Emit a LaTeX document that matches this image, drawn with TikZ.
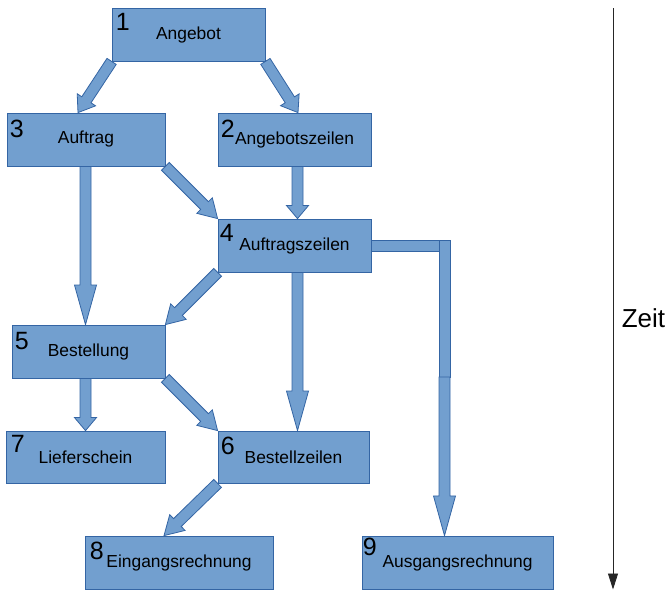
\documentclass[tikz,border=0pt]{standalone}
\usepackage{fontspec}
\setmainfont{Liberation Sans}
\usetikzlibrary{calc,arrows.meta}
\definecolor{boxfill}{HTML}{729FCF}
\definecolor{boxline}{HTML}{3465A4}
\tikzset{
	docbox/.style={rectangle, draw=boxline, fill=boxfill, line width=0.8pt, minimum height=53pt, inner sep=0pt, font=\fontsize{17.4}{20}\selectfont},
	docnum/.style={anchor=north west, inner sep=0pt, font=\fontsize{25}{28}\selectfont},
	arrowbody/.style={draw=boxline, fill=boxfill, line width=0.8pt, line join=miter},
}
% block arrow: shaft 11pt, head 22pt wide, head = quarter of the length
\newcommand{\blockarrow}[2]{%
	\coordinate (ba-s) at (#1);
	\coordinate (ba-e) at (#2);
	\coordinate (ba-h) at ($(ba-e)!0.25!(ba-s)$);
	\filldraw[arrowbody] ($(ba-s)!5.5pt!90:(ba-e)$) -- ($(ba-h)!5.5pt!90:(ba-e)$) -- ($(ba-h)!11pt!90:(ba-e)$) -- (ba-e)
		-- ($(ba-h)!11pt!-90:(ba-e)$) -- ($(ba-h)!5.5pt!-90:(ba-e)$) -- ($(ba-s)!5.5pt!-90:(ba-e)$) -- cycle;
}
\begin{document}
\begin{tikzpicture}[x=1pt, y=-1pt]
	\useasboundingbox (0,0) rectangle (668,590);
	% documents
	\node[docbox, minimum width=153pt](angebot) at (188.5,34.5){Angebot};
	\node[docbox, minimum width=158pt](auftrag) at (86,139.5){Auftrag};
	\node[docbox, minimum width=153pt](angebotszeilen) at (294.5,139.5){Angebotszeilen};
	\node[docbox, minimum width=153pt](auftragszeilen) at (294.5,245.5){Auftragszeilen};
	\node[docbox, minimum width=153pt](bestellung) at (88.5,351.5){Bestellung};
	\node[docbox, minimum width=159pt, minimum height=52pt](lieferschein) at (85.5,457){Lieferschein};
	\node[docbox, minimum width=151pt, minimum height=52pt](bestellzeilen) at (293.5,457){Bestellzeilen};
	\node[docbox, minimum width=188pt](eingang) at (179,562.5){Eingangsrechnung};
	\node[docbox, minimum width=191pt](ausgang) at (457.5,562.5){Ausgangsrechnung};
	% numbers
	\node[docnum](n1) at ($(angebot.north west)+(4,5)$){1};
	\node[docnum](n2) at ($(angebotszeilen.north west)+(3,7)$){2};
	\node[docnum](n3) at ($(auftrag.north west)+(3,7)$){3};
	\node[docnum](n4) at ($(auftragszeilen.north west)+(2,5)$){4};
	\node[docnum](n5) at ($(bestellung.north west)+(3,7)$){5};
	\node[docnum](n6) at ($(bestellzeilen.north west)+(3,6)$){6};
	\node[docnum](n7) at ($(lieferschein.north west)+(5,4)$){7};
	\node[docnum](n8) at ($(eingang.north west)+(5,6)$){8};
	\node[docnum](n9) at ($(ausgang.north west)+(1,2)$){9};
	% arrows
	\coordinate(from3) at ($(auftrag.south)+(-0.5,0)$);
	\coordinate(from2) at ($(angebotszeilen.south)+(3,0)$);
	\coordinate(from4) at ($(auftragszeilen.south)+(3,0)$);
	\coordinate(from5) at ($(bestellung.south)+(-3,0)$);
	\blockarrow{angebot.south west}{$(auftrag.north)+(-8,0)$}
	\blockarrow{angebot.south east}{$(angebotszeilen.north)+(3.5,0)$}
	\blockarrow{from3}{from3 |- bestellung.north}
	\blockarrow{from2}{from2 |- auftragszeilen.north}
	\blockarrow{auftrag.south east}{auftragszeilen.north west}
	\blockarrow{auftragszeilen.south west}{bestellung.north east}
	\blockarrow{from4}{from4 |- bestellzeilen.north}
	\blockarrow{from5}{from5 |- lieferschein.north}
	\blockarrow{bestellung.south east}{bestellzeilen.north west}
	\blockarrow{bestellzeilen.south west}{$(eingang.north)+(-15,0)$}
	% elbow to 9
	\coordinate(drop) at (444.5,377);
	\coordinate(knee) at (drop |- auftragszeilen.east);
	\filldraw[arrowbody] ($(auftragszeilen.east)+(0,-5.5)$) rectangle ($(knee)+(-5.5,5.5)$);
	\filldraw[arrowbody] ($(knee)+(-5.5,-5.5)$) rectangle ($(drop)+(5.5,0)$);
	\blockarrow{drop}{drop |- ausgang.north}
	% time axis
	\coordinate(zeittop) at (613,8);
	\coordinate(zeitbottom) at (613,589.5);
	\draw[-{Triangle[length=16pt, width=10pt]}, line width=0.8pt, black!85](zeittop) -- (zeitbottom);
	\node[font=\fontsize{26}{30}\selectfont](zeit) at (643.5,318){Zeit};
\end{tikzpicture}
\end{document}
